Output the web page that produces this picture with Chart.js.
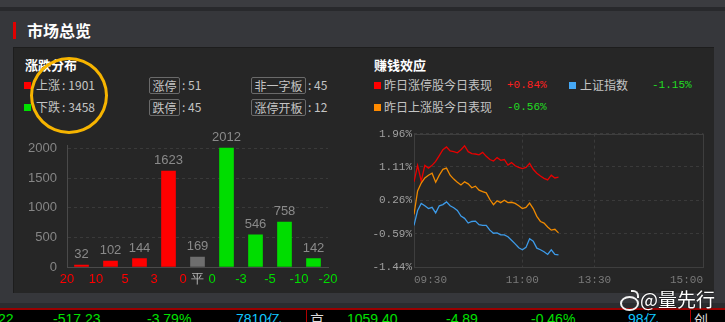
<!DOCTYPE html>
<html>
<head>
<meta charset="utf-8">
<script src="https://cdn.jsdelivr.net/npm/chart.js@4.4.0/dist/chart.umd.min.js"></script>
<style>
body{margin:0;width:725px;height:322px;overflow:hidden;background:#36373b;position:relative;font-family:"Noto Sans CJK SC",sans-serif;}
.a{position:absolute;white-space:nowrap;}
.t{font-size:12px;line-height:14px;color:#c4c4c4;}
.t i{font-style:normal;margin:0 3px 0 2px;}
.h{font-size:13px;line-height:16px;color:#fff;font-weight:bold;}
.sq{width:7px;height:7px;}
.box{border:1px solid #6a6a6a;border-radius:2px;line-height:15px;font-size:12px;color:#c4c4c4;text-align:center;box-sizing:border-box;height:17px;}
.m{font-family:"Liberation Mono",monospace;font-size:11px;line-height:14px;}
.tk{font-family:"Liberation Sans",sans-serif;font-size:14px;line-height:16px;color:#00e000;top:311px;}
canvas{position:absolute;}
</style>
</head>
<body>
<div class="a" style="left:0;top:0;width:725px;height:7px;background:#3b3c40"></div>
<div class="a" style="left:0;top:7px;width:725px;height:4px;background:#28292c"></div>
<div class="a" style="left:13px;top:22px;width:3px;height:17px;background:#e00000"></div>
<div class="a" style="left:27px;top:19px;font-size:16px;line-height:22px;font-weight:bold;color:#fff">市场总览</div>

<div class="a" style="left:13px;top:47px;width:700px;height:245px;background:#262626;border-top:1px solid #1d1d1d;border-left:1px solid #1d1d1d"></div>
<div class="a" style="left:0;top:303px;width:725px;height:5px;background:#2b2c2f"></div>
<div class="a" style="left:0;top:308px;width:725px;height:2px;background:#9a0000"></div>
<div class="a" style="left:0;top:310px;width:725px;height:12px;background:#000"></div>

<!-- left legend -->
<div class="a h" style="left:25px;top:57px">涨跌分布</div>
<div class="a sq" style="left:24px;top:82px;background:#ff0000"></div>
<div class="a t" style="left:36px;top:78px">上涨<i>:</i>1901</div>
<div class="a box" style="left:149px;top:77px;width:31px">涨停</div>
<div class="a t" style="left:182px;top:78px">: 51</div>
<div class="a box" style="left:251px;top:77px;width:55px">非一字板</div>
<div class="a t" style="left:308px;top:78px">: 45</div>
<div class="a sq" style="left:24px;top:104px;background:#00e000"></div>
<div class="a t" style="left:36px;top:100px">下跌<i>:</i>3458</div>
<div class="a box" style="left:149px;top:99px;width:31px">跌停</div>
<div class="a t" style="left:182px;top:100px">: 45</div>
<div class="a box" style="left:251px;top:99px;width:55px">涨停开板</div>
<div class="a t" style="left:308px;top:100px">: 12</div>

<!-- right legend -->
<div class="a h" style="left:374px;top:57px">赚钱效应</div>
<div class="a sq" style="left:374px;top:82px;background:#ff0000"></div>
<div class="a t" style="left:384px;top:78px">昨日涨停股今日表现</div>
<div class="a m" style="left:507px;top:78px;color:#ff2020">+0.84%</div>
<div class="a sq" style="left:569px;top:82px;background:#45a8f5"></div>
<div class="a t" style="left:580px;top:78px">上证指数</div>
<div class="a m" style="left:652px;top:78px;color:#22dd22">-1.15%</div>
<div class="a sq" style="left:374px;top:104px;background:#ff8a00"></div>
<div class="a t" style="left:384px;top:100px">昨日上涨股今日表现</div>
<div class="a m" style="left:507px;top:100px;color:#22dd22">-0.56%</div>

<canvas id="bars" width="330" height="162" style="left:15px;top:128px"></canvas>
<canvas id="lines" width="352" height="165" style="left:360px;top:125px"></canvas>

<!-- ticker row -->
<div class="a tk" style="left:-2px">22</div>
<div class="a tk" style="left:53px">-517.23</div>
<div class="a tk" style="left:147px">-3.79%</div>
<div class="a tk" style="left:236px;color:#10c8ff">7810亿</div>
<div class="a" style="left:306px;top:310px;width:1px;height:12px;background:#b00000"></div>
<div class="a tk" style="left:310px;color:#ddd;font-family:'Noto Sans CJK SC'">京</div>
<div class="a tk" style="left:347px">1059.40</div>
<div class="a tk" style="left:446px">-4.89</div>
<div class="a tk" style="left:531px">-0.46%</div>
<div class="a tk" style="left:628px;color:#10c8ff">98亿</div>
<div class="a" style="left:690px;top:310px;width:1px;height:12px;background:#b00000"></div>
<div class="a tk" style="left:694px;color:#ddd;font-family:'Noto Sans CJK SC'">创</div>

<!-- annotation + watermark -->
<div class="a" style="left:30px;top:57px;width:72px;height:71px;border:3px solid #f6b400;border-radius:50%"></div>
<div class="a" style="left:620px;top:296px;width:15px;height:11px;border:2px solid #f2f2f2;border-radius:50%"></div>
<div class="a" style="left:631px;top:290px;width:6px;height:6px;border-top:2px solid #f2f2f2;border-right:2px solid #f2f2f2;border-radius:0 6px 0 0"></div>
<div class="a" style="left:640px;top:287px;font-size:19px;line-height:24px;color:#fff;text-shadow:0 0 2px #000">@量先行</div>

<script>
// 涨跌分布
const categories = ['20~10', '10~5', '5~3', '3~0', '平', '0~-3', '-3~-5', '-5~-10', '-10~-20'];
const counts = [32, 102, 144, 1623, 169, 2012, 546, 758, 142];
const barTickLabels = ['20', '10', '5', '3', '0', '平', '0', '-3', '-5', '-10', '-20'];
const countTicks = [0, 500, 1000, 1500, 2000];

// 赚钱效应, one point every 3 minutes from 09:30
const minuteStep = 3;
const limitUpYesterday = [0.73, 1.15, 0.75, 1.15, 1.08, 1.15, 1.25, 1.40, 1.55, 1.62, 1.52, 1.50, 1.47, 1.55, 1.65, 1.50, 1.45, 1.44, 1.42, 1.48, 1.38, 1.30, 1.26, 1.35, 1.28, 1.30, 1.16, 1.22, 1.14, 1.10, 1.07, 1.10, 1.20, 1.05, 0.95, 0.88, 0.82, 0.78, 0.90, 0.83, 0.85];
const risersYesterday = [-0.10, 0.50, 0.70, 0.83, 0.90, 0.95, 0.72, 0.90, 1.05, 1.08, 0.90, 0.80, 0.72, 0.65, 0.73, 0.68, 0.58, 0.62, 0.52, 0.48, 0.45, 0.28, 0.15, 0.25, 0.20, 0.26, 0.20, 0.21, 0.18, 0.12, 0.05, 0.08, 0.19, 0.05, -0.15, -0.28, -0.32, -0.42, -0.50, -0.48, -0.57];
const shIndex = [-0.38, 0.00, 0.18, 0.12, 0.05, 0.08, -0.06, 0.12, 0.15, 0.22, 0.12, 0.07, 0.00, -0.14, -0.20, -0.32, -0.28, -0.27, -0.36, -0.38, -0.38, -0.50, -0.58, -0.57, -0.62, -0.62, -0.67, -0.76, -0.85, -0.95, -1.00, -0.94, -0.72, -0.78, -0.96, -1.00, -1.05, -1.12, -1.00, -1.12, -1.13];
const timeTicks = [0, 90, 150, 240];
const timeLabels = ['09:30', '11:00', '13:30', '15:00'];
const pctTicks = [-1.44, -0.59, 0.26, 1.11, 1.96];

Chart.defaults.animation = false;
Chart.defaults.responsive = false;
Chart.defaults.devicePixelRatio = 1;
Chart.defaults.plugins.legend.display = false;
Chart.defaults.plugins.tooltip.enabled = false;

const RED = '#ff0000', GREEN = '#00dd00', FLAT = '#6e6e6e';
const flatIdx = categories.indexOf('平');

// tick positions sit on the bar boundaries, plus one under the flat bar
const boundaryTicks = [];
for (let i = 0; i <= flatIdx; i++) boundaryTicks.push(i - 0.5);
boundaryTicks.push(flatIdx);
for (let i = flatIdx + 1; i <= categories.length; i++) boundaryTicks.push(i - 0.5);

const valueLabels = {
  id: 'valueLabels',
  afterDatasetsDraw(chart) {
    const ctx = chart.ctx;
    ctx.save();
    ctx.font = '13px "Liberation Sans"';
    ctx.fillStyle = '#8a8a8a';
    ctx.textAlign = 'center';
    ctx.textBaseline = 'bottom';
    chart.getDatasetMeta(0).data.forEach((bar, i) => ctx.fillText(counts[i], bar.x, bar.y - 4));
    ctx.restore();
  }
};

new Chart(document.getElementById('bars'), {
  type: 'bar',
  data: {
    datasets: [{
      data: counts.map((v, i) => ({x: i, y: v})),
      backgroundColor: counts.map((v, i) => i < flatIdx ? RED : i === flatIdx ? FLAT : GREEN),
      barThickness: 14
    }]
  },
  options: {
    layout: {padding: {left: 0, right: 17, top: 15, bottom: 0}},
    scales: {
      x: {
        type: 'linear', min: -0.5, max: categories.length - 0.5, offset: false,
        afterBuildTicks: s => { s.ticks = boundaryTicks.map(v => ({value: v})); },
        afterFit: s => { s.height = 23; },
        grid: {color: 'transparent', drawTicks: false, offset: false},
        border: {color: '#4a4a4a'},
        ticks: {
          autoSkip: false, maxRotation: 0, padding: 5,
          font: {family: 'Liberation Sans', size: 13},
          color: c => c.index < flatIdx + 1 ? RED : c.index === flatIdx + 1 ? '#b4b4b4' : GREEN,
          callback: (v, i) => barTickLabels[i]
        }
      },
      y: {
        min: 0, max: 2050,
        afterBuildTicks: s => { s.ticks = countTicks.map(v => ({value: v})); },
        afterFit: s => { s.width = 52; },
        grid: {color: '#3a3a3a', drawTicks: false},
        border: {color: '#4a4a4a', dash: [3, 3]},
        ticks: {
          padding: 10, color: '#858585', font: {family: 'Liberation Sans', size: 13},
          callback: v => String(v)
        }
      }
    }
  },
  plugins: [valueLabels]
});

const frame = {
  id: 'frame',
  beforeDatasetsDraw(chart) {
    const {left, top, width, height} = chart.chartArea;
    const ctx = chart.ctx;
    ctx.save();
    ctx.strokeStyle = '#3e3e3e';
    ctx.lineWidth = 1;
    ctx.strokeRect(Math.round(left) + 0.5, Math.round(top) + 0.5, Math.round(width), Math.round(height));
    ctx.restore();
  }
};

const toPoints = arr => arr.map((v, i) => ({x: i * minuteStep, y: v}));
const lineSet = (arr, color) => ({data: toPoints(arr), borderColor: color, borderWidth: 1.3, pointRadius: 0, tension: 0});

new Chart(document.getElementById('lines'), {
  type: 'line',
  data: {
    datasets: [
      lineSet(shIndex, '#3d9be9'),
      lineSet(risersYesterday, '#f08a00'),
      lineSet(limitUpYesterday, '#e80000')
    ]
  },
  options: {
    layout: {padding: {left: 0, right: 9, top: 8, bottom: 0}},
    scales: {
      x: {
        type: 'linear', min: 0, max: 240,
        afterBuildTicks: s => { s.ticks = timeTicks.map(v => ({value: v})); },
        afterFit: s => { s.height = 23; },
        grid: {color: '#3a3a3a', drawTicks: false},
        border: {display: false, dash: [3, 3]},
        ticks: {
          align: 'inner', maxRotation: 0, autoSkip: false, padding: 6,
          color: '#7a7a7a', font: {family: 'Liberation Mono', size: 11},
          callback: (v, i) => timeLabels[i]
        }
      },
      y: {
        min: pctTicks[0], max: pctTicks[pctTicks.length - 1],
        afterBuildTicks: s => { s.ticks = pctTicks.map(v => ({value: v})); },
        afterFit: s => { s.width = 54; },
        grid: {color: '#3a3a3a', drawTicks: false},
        border: {display: false, dash: [3, 3]},
        ticks: {
          padding: 2, color: '#a0a0a0', font: {family: 'Liberation Mono', size: 11},
          callback: v => v.toFixed(2) + '%'
        }
      }
    }
  },
  plugins: [frame]
});
</script>
</body>
</html>
